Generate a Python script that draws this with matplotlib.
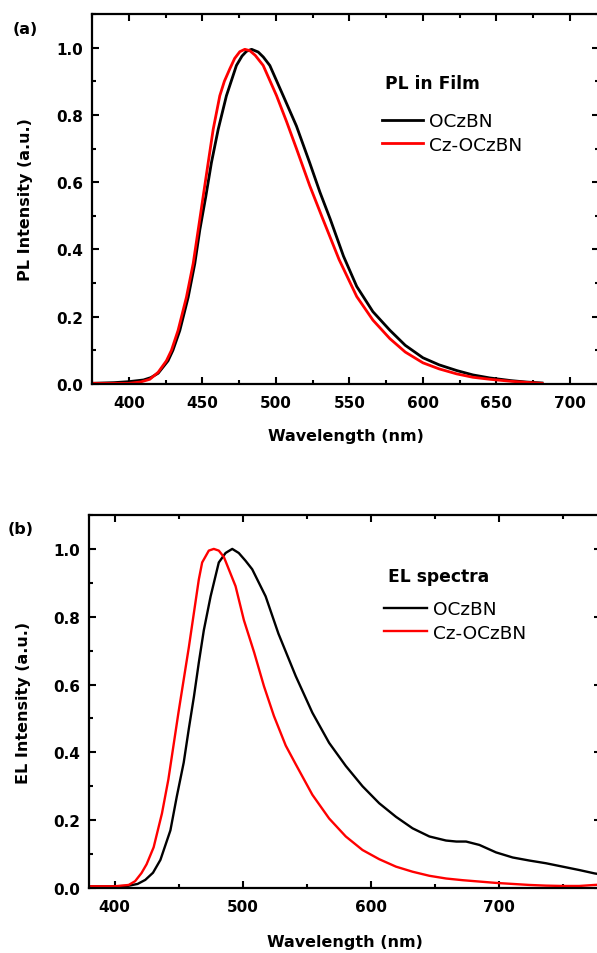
import matplotlib
matplotlib.use("Agg")
import matplotlib.pyplot as plt
from matplotlib.ticker import MultipleLocator

plt.rcParams['font.family'] = ['DejaVu Sans']

# (a) PL in film
pl_wl_oczbn = [375, 390, 400, 410, 415, 420, 426.7, 430, 434.7, 440.4, 444.9, 448.3,
               452.4, 456.2, 460.8, 466.4, 473.2, 477, 480, 483.5, 488, 491.5, 495.9,
               505, 514, 523, 530, 537, 546, 555, 566, 577.5, 588, 600, 611, 623, 634,
               645.5, 660, 670, 681]
pl_oczbn = [0.002, 0.004, 0.007, 0.012, 0.019, 0.032, 0.069, 0.10, 0.159, 0.258, 0.358,
            0.458, 0.558, 0.658, 0.757, 0.857, 0.947, 0.975, 0.989, 0.995, 0.987, 0.972,
            0.947, 0.857, 0.767, 0.658, 0.57, 0.49, 0.38, 0.29, 0.215, 0.16, 0.115,
            0.078, 0.057, 0.04, 0.027, 0.018, 0.01, 0.006, 0.003]

pl_wl_cz = [375, 390, 400, 408, 414.3, 420, 425.6, 429, 433.5, 439.2, 443.8, 447.2,
            450.6, 454, 457.4, 461.9, 465, 468.7, 472, 475.5, 478.9, 482.3, 486, 491.4,
            500.5, 507.3, 514, 523, 532, 543, 555, 566, 577.5, 588, 600, 611, 623, 634,
            645.5, 660, 670, 681]
pl_cz = [0.002, 0.002, 0.002, 0.006, 0.014, 0.035, 0.069, 0.10, 0.159, 0.258, 0.358,
         0.458, 0.558, 0.658, 0.757, 0.857, 0.9, 0.937, 0.968, 0.988, 0.995, 0.991,
         0.977, 0.947, 0.857, 0.78, 0.70, 0.59, 0.49, 0.37, 0.26, 0.19, 0.135, 0.095,
         0.063, 0.045, 0.03, 0.02, 0.014, 0.008, 0.005, 0.002]

# (b) EL spectra
el_wl_oczbn = [380, 400, 410, 418, 424, 430, 435.8, 443.6, 448.6, 454, 458, 462, 465.8,
               469.7, 475, 481.4, 486.7, 491.9, 497, 502.3, 507.5, 518, 528, 541.5, 554.5,
               567.6, 580.6, 593.7, 606.7, 619.8, 632.8, 645.9, 658.9, 667, 674.6, 685,
               698, 711, 724, 737, 750, 763, 775, 780]
el_oczbn = [0.005, 0.005, 0.006, 0.012, 0.024, 0.045, 0.083, 0.17, 0.27, 0.37, 0.47,
            0.565, 0.665, 0.76, 0.86, 0.96, 0.988, 1.0, 0.988, 0.965, 0.94, 0.86, 0.75,
            0.625, 0.517, 0.428, 0.36, 0.30, 0.25, 0.21, 0.176, 0.152, 0.14, 0.137,
            0.137, 0.127, 0.105, 0.09, 0.081, 0.073, 0.063, 0.053, 0.043, 0.04]

el_wl_cz = [380, 400, 411, 416, 421, 425, 430.5, 437, 442, 446, 450, 454, 458, 461.9,
            465.8, 468.4, 473.6, 477.5, 481.4, 485.4, 494.5, 501, 509, 516.7, 524.5,
            533.7, 541.5, 554.5, 567.6, 580.6, 593.7, 606.7, 619.8, 632.8, 645.9, 659,
            672, 685, 698, 711, 724, 737, 750, 763, 775, 780]
el_cz = [0.005, 0.005, 0.009, 0.02, 0.044, 0.07, 0.12, 0.22, 0.32, 0.42, 0.52, 0.615,
         0.71, 0.81, 0.91, 0.96, 0.995, 1.0, 0.995, 0.976, 0.89, 0.79, 0.695, 0.595,
         0.507, 0.42, 0.365, 0.275, 0.205, 0.152, 0.112, 0.085, 0.063, 0.048, 0.036,
         0.028, 0.023, 0.019, 0.015, 0.012, 0.009, 0.007, 0.006, 0.006, 0.009, 0.01]

W, H = 597, 954
fig = plt.figure(figsize=(W / 100, H / 100), dpi=100)


def px_axes(left, top, right, bottom):
    return fig.add_axes([left / W, 1 - bottom / H, (right - left) / W, (bottom - top) / H])


def style_axes(ax, xmaj, xmin):
    for sp in ax.spines.values():
        sp.set_linewidth(1.6)
    ax.xaxis.set_major_locator(MultipleLocator(xmaj))
    ax.xaxis.set_minor_locator(MultipleLocator(xmin))
    ax.yaxis.set_major_locator(MultipleLocator(0.2))
    ax.yaxis.set_minor_locator(MultipleLocator(0.1))
    ax.tick_params(which='both', direction='in', top=True, right=True, width=1.5)
    ax.tick_params(which='major', length=5)
    ax.tick_params(which='minor', length=3)
    ax.tick_params(axis='y', pad=6.5)
    ax.tick_params(axis='x', pad=8)
    for lab in ax.get_xticklabels() + ax.get_yticklabels():
        lab.set_fontweight('bold')
        lab.set_fontsize(11)


# ---- panel (a)
ax1 = px_axes(92, 15, 599.4, 385)
ax1.plot(pl_wl_oczbn, pl_oczbn, color='black', lw=2.0, label='OCzBN')
ax1.plot(pl_wl_cz, pl_cz, color='#ff0000', lw=2.0, label='Cz-OCzBN')
ax1.set_xlim(375, 720)
ax1.set_ylim(0, 1.1)
style_axes(ax1, 50, 25)
ax1.set_xlabel('Wavelength (nm)', fontsize=11.5, fontweight='bold')
ax1.set_ylabel('PL Intensity (a.u.)', fontsize=11.5, fontweight='bold')
ax1.xaxis.set_label_coords(0.5, -0.118)
ax1.yaxis.set_label_coords(-0.116, 0.5)
ax1.text(0.578, 0.8135, 'PL in Film', transform=ax1.transAxes, fontsize=12.3,
         fontweight='bold', ha='left', va='center')
ax1.legend(loc='upper left', bbox_to_anchor=(0.572, 0.734), frameon=False,
           fontsize=13.3, borderpad=0, borderaxespad=0, handlelength=2.2,
           handletextpad=0.32, labelspacing=0.3)
fig.text(13 / W, 1 - 30 / H, '(a)', fontsize=11.5, fontweight='bold', ha='left', va='center')

# ---- panel (b)
ax2 = px_axes(89, 516, 601, 889)
ax2.plot(el_wl_oczbn, el_oczbn, color='black', lw=1.7, label='OCzBN')
ax2.plot(el_wl_cz, el_cz, color='#ff0000', lw=1.7, label='Cz-OCzBN')
ax2.set_xlim(380, 780)
ax2.set_ylim(0, 1.1)
style_axes(ax2, 100, 50)
ax2.set_xlabel('Wavelength (nm)', fontsize=11.5, fontweight='bold')
ax2.set_ylabel('EL Intensity (a.u.)', fontsize=11.5, fontweight='bold')
ax2.xaxis.set_label_coords(0.5, -0.123)
ax2.yaxis.set_label_coords(-0.113, 0.5)
ax2.text(0.584, 0.836, 'EL spectra', transform=ax2.transAxes, fontsize=12.3,
         fontweight='bold', ha='left', va='center')
ax2.legend(loc='upper left', bbox_to_anchor=(0.576, 0.771), frameon=False,
           fontsize=13.3, borderpad=0, borderaxespad=0, handlelength=2.33,
           handletextpad=0.32, labelspacing=0.3)
fig.text(8 / W, 1 - 530 / H, '(b)', fontsize=11.5, fontweight='bold', ha='left', va='center')

fig.savefig('out.png', dpi=100)
